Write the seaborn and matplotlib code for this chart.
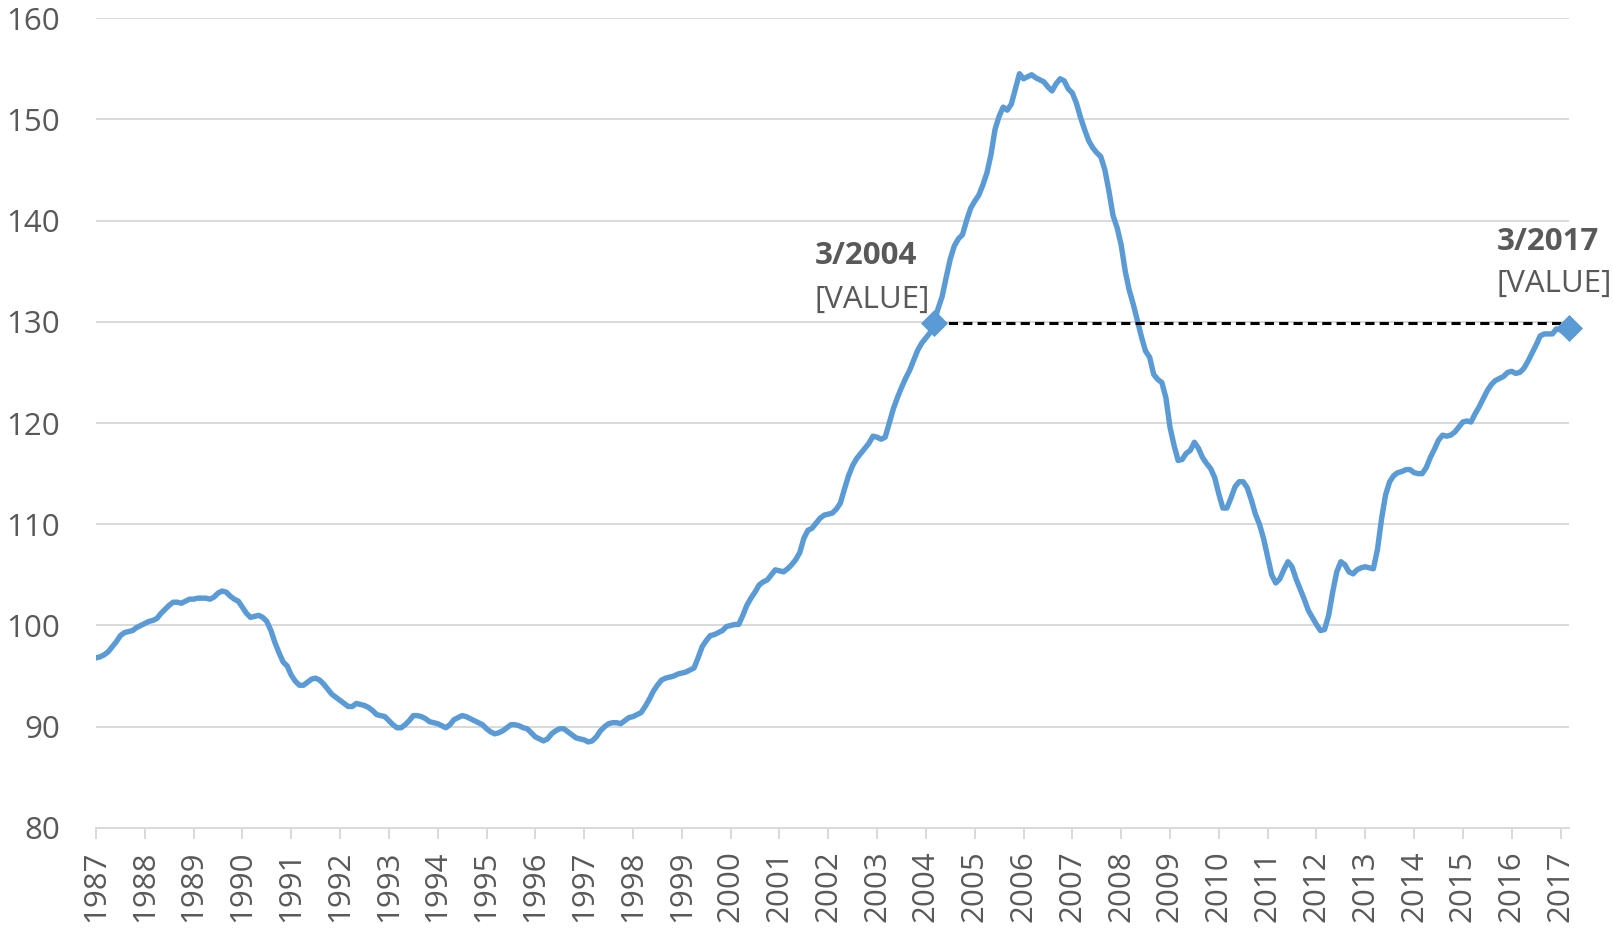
import numpy as np
import pandas as pd
import matplotlib
matplotlib.use("Agg")
import matplotlib.pyplot as plt
import seaborn as sns


# monthly index values, Jan 1987 .. Mar 2017
values_1987_1996 = [
    96.8, 96.9, 97.1, 97.4, 97.9, 98.4, 99.0, 99.3, 99.4, 99.5, 99.8, 100.0,
    100.2, 100.4, 100.5, 100.7, 101.2, 101.6, 102.0, 102.3, 102.3, 102.2, 102.4, 102.6,
    102.6, 102.7, 102.7, 102.7, 102.6, 102.8, 103.2, 103.4, 103.3, 102.9, 102.6, 102.4,
    101.8, 101.2, 100.8, 100.9, 101.0, 100.8, 100.4, 99.5, 98.3, 97.3, 96.4, 96.0,
    95.1, 94.5, 94.1, 94.1, 94.4, 94.7, 94.8, 94.6, 94.2, 93.7, 93.2, 92.9,
    92.6, 92.3, 92.0, 92.0, 92.3, 92.2, 92.1, 91.9, 91.6, 91.2, 91.1, 91.0,
    90.6, 90.2, 89.9, 89.9, 90.2, 90.6, 91.1, 91.1, 91.0, 90.8, 90.5, 90.4,
    90.3, 90.1, 89.9, 90.2, 90.7, 90.9, 91.1, 91.0, 90.8, 90.6, 90.4, 90.2,
    89.8, 89.5, 89.3, 89.4, 89.6, 89.9, 90.2, 90.2, 90.1, 89.9, 89.8, 89.4,
    89.0, 88.8, 88.6, 88.8, 89.3, 89.6, 89.8, 89.8, 89.5, 89.2, 88.9, 88.8,
]
values_1997_2006 = [
    88.7, 88.5, 88.6, 89.0, 89.6, 90.0, 90.3, 90.4, 90.4, 90.3, 90.6, 90.9,
    91.0, 91.2, 91.4, 92.0, 92.7, 93.5, 94.1, 94.6, 94.8, 94.9, 95.0, 95.2,
    95.3, 95.4, 95.6, 95.8, 96.8, 97.9, 98.5, 99.0, 99.1, 99.3, 99.5, 99.9,
    100.0, 100.1, 100.1, 101.0, 102.0, 102.7, 103.3, 104.0, 104.3, 104.5, 105.0, 105.5,
    105.4, 105.3, 105.6, 106.0, 106.5, 107.2, 108.6, 109.4, 109.6, 110.1, 110.6, 110.9,
    111.0, 111.1, 111.5, 112.1, 113.5, 114.8, 115.8, 116.5, 117.0, 117.5, 118.0, 118.7,
    118.6, 118.4, 118.6, 120.0, 121.4, 122.5, 123.5, 124.4, 125.2, 126.2, 127.2, 127.9,
    128.4, 128.9, 129.9, 131.3, 132.5, 134.4, 136.2, 137.5, 138.2, 138.6, 140.0, 141.2,
    141.9, 142.5, 143.5, 144.7, 146.5, 149.0, 150.3, 151.2, 150.9, 151.5, 153.0, 154.5,
    154.0, 154.2, 154.4, 154.1, 153.9, 153.7, 153.2, 152.8, 153.5, 154.0, 153.8, 153.0,
]
values_2007_2017 = [
    152.6, 151.6, 150.2, 149.0, 147.9, 147.2, 146.7, 146.3, 145.0, 142.9, 140.5, 139.3,
    137.6, 135.0, 133.1, 131.7, 130.1, 128.5, 127.1, 126.5, 124.8, 124.3, 124.0, 122.5,
    119.6, 117.8, 116.3, 116.4, 117.0, 117.3, 118.1, 117.5, 116.6, 116.0, 115.5, 114.6,
    113.0, 111.6, 111.6, 112.6, 113.7, 114.2, 114.2, 113.6, 112.4, 111.0, 110.0, 108.6,
    106.8, 105.0, 104.2, 104.6, 105.5, 106.3, 105.8, 104.6, 103.6, 102.6, 101.5, 100.8,
    100.1, 99.5, 99.6, 101.0, 103.3, 105.3, 106.3, 106.0, 105.3, 105.1, 105.5, 105.7,
    105.8, 105.7, 105.6, 107.5, 110.5, 112.9, 114.2, 114.8, 115.1, 115.2, 115.4, 115.4,
    115.1, 115.0, 115.0, 115.6, 116.6, 117.4, 118.3, 118.8, 118.7, 118.8, 119.1, 119.6,
    120.1, 120.2, 120.1, 120.9, 121.6, 122.4, 123.2, 123.8, 124.2, 124.4, 124.6, 125.0,
    125.1, 124.9, 125.0, 125.4, 126.1, 126.9, 127.7, 128.6, 128.8, 128.8, 128.8, 129.3,
    129.2, 128.9, 129.4,
]

year_labels = [str(y) for y in range(1987, 2018)]
marked_periods = ["2004-03", "2017-03"]
marked_titles = ["3/2004", "3/2017"]
value_text = "[VALUE]"

blue = "#5b9bd5"
grey_text = "#595959"
grey_line = "#d9d9d9"


values = values_1987_1996 + values_1997_2006 + values_2007_2017
df = pd.DataFrame({
    "period": pd.period_range("1987-01", periods=len(values), freq="M").astype(str),
    "value": values,
})
df["pos"] = np.arange(len(df))

sns.set_theme(style="white")
plt.rcParams["font.family"] = ["Open Sans", "DejaVu Sans"]

fig = plt.figure(figsize=(16.13, 9.30), dpi=100)
ax = fig.add_axes([0.0595, 0.1097, 0.913, 0.8709])

sns.lineplot(data=df, x="pos", y="value", color=blue, linewidth=3.9, ax=ax, zorder=3)

# the two marked months and the dashed level line between them
marked = df[df["period"].isin(marked_periods)]
start, end = marked.iloc[0], marked.iloc[1]
ax.plot([start["pos"], end["pos"]], [start["value"], start["value"]],
        color="black", linewidth=2.2, linestyle=(0, (3, 1.7)), zorder=4,
        clip_on=False)
sns.scatterplot(data=marked, x="pos", y="value", marker="D", s=190,
                color=blue, edgecolor=blue, linewidth=0, ax=ax, zorder=5,
                clip_on=False)

label_offsets = [(-86, 42, 11), (-52, 56, 26)]
for (_, row), title, (dx, dy_title, dy_value) in zip(marked.iterrows(), marked_titles, label_offsets):
    ax.annotate(title, (row["pos"], row["value"]), xytext=(dx, dy_title),
                textcoords="offset points", ha="left", va="baseline",
                fontsize=22.5, fontweight="bold", color=grey_text)
    ax.annotate(value_text, (row["pos"], row["value"]), xytext=(dx, dy_value),
                textcoords="offset points", ha="left", va="baseline",
                fontsize=22.5, color=grey_text)

ax.set_xlim(0, len(df) - 1)
ax.set_ylim(80, 160)
ax.set_yticks(range(80, 161, 10))
ax.set_xticks(df["pos"][::12])
ax.set_xticklabels(year_labels, rotation=90)
ax.set_xlabel("")
ax.set_ylabel("")

ax.yaxis.grid(True, color=grey_line, linewidth=1.4)
ax.xaxis.grid(False)
ax.set_axisbelow(True)
for side in ["top", "right", "left"]:
    ax.spines[side].set_visible(False)
ax.spines["bottom"].set_color(grey_line)
ax.spines["bottom"].set_linewidth(1.4)

ax.tick_params(axis="y", length=0, pad=26, labelsize=22.5, labelcolor=grey_text)
ax.tick_params(axis="x", direction="out", length=8, width=1.4, color=grey_line,
               pad=8, labelsize=22.5, labelcolor=grey_text, bottom=True)

fig.savefig("out.png", dpi=100)
